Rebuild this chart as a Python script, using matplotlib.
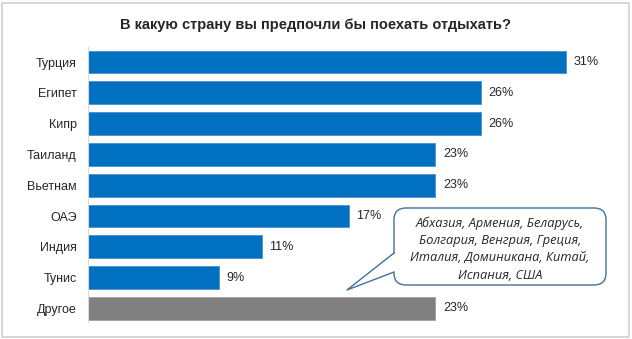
import matplotlib.pyplot as plt
from matplotlib.patches import FancyBboxPatch, Polygon, Rectangle

plt.rcParams['font.family'] = ['Liberation Sans', 'DejaVu Sans']

countries = ['Турция', 'Египет', 'Кипр', 'Таиланд', 'Вьетнам', 'ОАЭ', 'Индия', 'Тунис', 'Другое']
shares = [31.4, 25.8, 25.8, 22.8, 22.8, 17.1, 11.4, 8.6, 22.8]
labels = ['31%', '26%', '26%', '23%', '23%', '17%', '11%', '9%', '23%']
other_list = ['Абхазия, Армения, Беларусь,',
              'Болгария, Венгрия, Греция,',
              'Италия, Доминикана, Китай,',
              'Испания, США']

W, H = 632, 339
fig = plt.figure(figsize=(W / 100, H / 100), dpi=100)
ax = fig.add_axes([88 / W, 1 - 321.7 / H, (606 - 88) / W, (321.7 - 46.7) / H])

colors = ['#0070C0'] * (len(countries) - 1) + ['#808080']
edges = ['#4A8FD0'] * (len(countries) - 1) + ['#A0A0A0']
y = range(len(countries))
ax.barh(y, shares, height=0.74, color=colors, edgecolor=edges, linewidth=0.6)

for i, (v, lab) in enumerate(zip(shares, labels)):
    ax.text(v + 0.5, i, lab, va='center', ha='left', fontsize=9, color='#262626')

ax.set_xlim(0, 34)
ax.set_ylim(8.43, -0.5)
ax.set_yticks(list(y))
ax.set_yticklabels(countries, fontsize=9, color='#262626')
ax.tick_params(axis='y', length=0, pad=8)
ax.set_xticks([])
for s in ['top', 'right', 'bottom']:
    ax.spines[s].set_visible(False)
ax.spines['left'].set_color('#D9D9D9')

fig.text(0.5, 1 - 25 / H, 'В какую страну вы предпочли бы поехать отдыхать?',
         ha='center', va='center', fontsize=10.5, fontweight='bold', color='#262626')

# рамка
fig.patches.append(Rectangle((2 / W, 2 / H), (W - 5) / W, (H - 5) / H, transform=fig.transFigure,
                             fill=False, edgecolor='#D0D0D0', linewidth=1.2))

# выноска (пиксели -> дюймы)
def px(x, yy):
    return (x / 100, (H - yy) / 100)

tr = fig.dpi_scale_trans
bx0, by0, bx1, by1 = 394, 208, 606, 285
box = FancyBboxPatch(px(bx0, by1), (bx1 - bx0) / 100, (by1 - by0) / 100,
                     boxstyle='round,pad=0,rounding_size=0.12', transform=tr,
                     facecolor='white', edgecolor='#41719C', linewidth=1.0)
fig.patches.append(box)
tip = px(347, 290)
p1 = px(bx0, 253)
p2 = px(bx0, 272)
fig.patches.append(Polygon([px(bx0 + 1.5, 253), tip, px(bx0 + 1.5, 272)], closed=True,
                           transform=tr, facecolor='white', edgecolor='none'))
fig.lines.append(plt.Line2D([p1[0], tip[0], p2[0]], [p1[1], tip[1], p2[1]],
                            transform=tr, color='#41719C', linewidth=1.0))

for k, line in enumerate(other_list):
    fig.text((bx0 + bx1) / 2 / W, 1 - (223 + k * 17.4) / H, line, ha='center', va='center',
             fontsize=9.2, style='italic', family=['Open Sans', 'DejaVu Sans'], color='#262626')

fig.savefig('out.png', dpi=100)
